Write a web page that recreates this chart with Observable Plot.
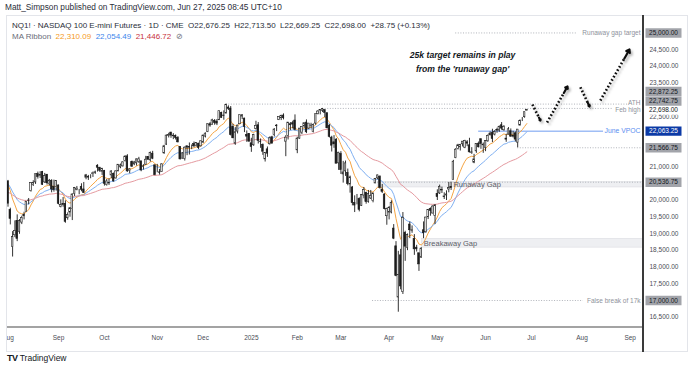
<!DOCTYPE html>
<html><head><meta charset="utf-8">
<script src="https://cdn.jsdelivr.net/npm/d3@7"></script>
<script src="https://cdn.jsdelivr.net/npm/@observablehq/plot@0.6"></script>
<style>
body{margin:0;background:#fff;font-family:"Liberation Sans",Arial,sans-serif;}
#wrap{position:relative;width:690px;height:369px;overflow:hidden;background:#fff;}
#chart{position:absolute;left:0;top:0;}
.t{position:absolute;white-space:nowrap;color:#131722;line-height:10px;}
</style></head><body>
<div id="wrap">
<div id="chart"></div>
<div style="position:absolute;left:6px;top:15px;width:682px;height:337px;border:1px solid #e3e5ea;box-sizing:border-box;pointer-events:none"></div>
<div style="position:absolute;left:7px;top:326px;width:636px;height:2px;background:#a3a3a3"></div>
<div style="position:absolute;left:642px;top:15px;width:1.5px;height:337px;background:#3a3a3a"></div>
<div style="position:absolute;left:0;top:328px;width:6px;height:22px;background:#fff"></div>
<div class="t" style="left:5px;top:2px;font-size:8.3px;color:#2a2e39">Matt_Simpson published on TradingView.com, Jun 27, 2025 08:45 UTC+10</div>
<div class="t" id="hdr" style="left:12px;top:21px;font-size:8px;color:#2a2e39"></div>
<div class="t" id="ma" style="left:12px;top:32px;font-size:8px;color:#6a6d78"></div>
<div class="t" style="left:7px;top:352px;font-size:8.5px;color:#131722;line-height:12px"><b style="font-size:9px;letter-spacing:-0.5px">TV</b> TradingView</div>
</div>
<script>
// ---------- data ----------
const open = [20560,19700,18600,18950,19380,19050,19330,19520,19650,19990,20270,20450,20530,20780,20730,20840,20530,20760,20480,20580,20400,20390,
20440,19800,19880,19890,19460,19630,19730,20180,20310,20300,20400,20320,20670,20700,20710,20780,20830,21030,20970,20850,
20870,20450,20500,20740,20790,20650,20860,20980,21010,21170,21310,20870,21140,21070,21100,21140,21160,20990,21060,21290,21190,21390,21040,
20860,20830,20840,21400,21660,21920,22020,21930,21920,21860,21590,21240,21230,21610,21590,21570,21680,21620,21690,21610,
21720,21900,22040,22270,22250,22370,22350,22390,22610,22530,22590,22770,22740,22190,21690,22050,22270,22500,22440,21950,21980,
21700,21640,22130,22240,21750,21650,21220,21520,21670,21880,21950,22210,22400,22450,22530,21750,21920,22270,22300,22380,
21490,21840,22020,22210,22320,22140,22220,22040,22290,22570,22680,22670,22690,22600,22230,21870,21730,21810,21100,
21380,20770,20860,20810,20470,20380,19920,20070,20030,19830,20140,20220,19950,20050,19970,20500,20650,20700,20310,20170,19520,
19630,19630,19150,18620,17090,18350,17250,19020,18570,19270,19080,18840,18580,18410,18280,19100,19040,19490,19740,19600,19530,
20190,20200,20300,20110,20140,20320,20390,20600,21260,21530,21580,21670,21570,21730,21640,21410,21120,21460,21690,21820,21640,
21560,21760,21940,22010,21960,22100,22080,22240,22090,21840,21960,22060,21920,22000,21720,22230,22420,22480,22676.25];
const high = [20590,19760,19060,19380,19560,19420,19520,19640,19960,20050,20520,20580,20780,20840,20850,20860,20800,20770,20620,20610,20600,20580,
20450,20010,20080,19980,19620,19780,20190,20380,20410,20320,20490,20530,20770,20740,20760,20840,20870,21060,20980,20950,
20890,20620,20640,20880,20810,20880,21060,21080,21150,21330,21360,20940,21170,21160,21230,21280,21170,21060,21310,21300,21440,21460,21060,
21070,20920,21090,21640,21950,22000,22030,21990,21950,21900,21600,21420,21590,21620,21710,21650,21740,21720,21700,21770,
21950,22010,22280,22320,22420,22410,22410,22670,22630,22670,22872.25,22820,22800,22270,22170,22240,22540,22560,22450,22070,21990,
21850,21970,22360,22320,21830,21680,21410,21590,21890,21910,22140,22260,22500,22540,22580,21930,22320,22320,22360,22550,
21880,22140,22200,22310,22400,22290,22300,22280,22570,22680,22710,22742.75,22700,22610,22260,21910,21930,21840,21430,
21450,21160,21170,20930,20720,20410,20130,20170,20070,20170,20380,20240,20290,20290,20210,20650,20750,20730,20470,20190,19760,
19810,19980,19270,18760,18470,18530,19630,19070,18990,19350,19230,18970,18650,18420,18580,19350,19490,19710,19770,19830,19870,
20310,20450,20390,20220,20280,20530,20536.75,21190,21540,21670,21670,21750,21790,21780,21850,21570,21370,21690,21740,21840,21710,
21780,21950,22040,22120,22080,22150,22220,22320,22230,21970,22170,22130,22060,22040,22110,22400,22470,22630,22713.5];
const low = [19790,19260,18300,18880,18760,18980,19270,19410,19640,19860,20240,20410,20470,20630,20650,20440,20500,20450,20420,20220,20240,20270,
19860,19770,19790,19310,19400,19490,19390,20110,20280,20160,20250,20200,20610,20590,20640,20680,20770,20840,20830,20740,
20420,20420,20440,20640,20540,20630,20850,20940,20990,21140,20830,20790,20980,21030,21020,21100,20850,20900,21040,21190,21140,21210,20730,
20820,20750,20830,21370,21640,21860,21850,21810,21800,21710,21200,21230,21170,21330,21350,21510,21570,21590,21510,21590,
21700,21860,22020,22180,22240,22240,22230,22380,22450,22390,22580,22680,21920,21840,21640,21980,22260,22410,22020,21730,21730,
21430,21610,22100,21680,21550,21340,21140,21280,21650,21680,21890,22050,22380,22380,22400,21300,21800,22080,22130,22070,
21390,21820,21960,22150,21990,22110,22150,22010,22240,22550,22550,22620,22470,22130,21860,21440,21550,21080,20890,
20770,20510,20710,20430,20210,19830,19630,19860,19650,19810,20040,19880,19910,20020,19920,20490,20610,20330,20200,19710,19250,
19410,19590,18820,17710,16650,17320,17180,18170,18490,18850,19010,18350,18450,17870,18260,18850,19010,19420,19520,19590,19270,
19990,20170,20200,20020,19990,20220,20290,20590,21240,21500,21470,21590,21540,21600,21410,21370,21090,21400,21560,21520,21400,
21450,21730,21920,21720,21920,22000,22030,22090,22060,21730,21950,21880,21860,21740,21566.75,22220,22350,22450,22669.25];
const close = [19895,19440,18895,19078,18841,19375,19470,19552,19955,19985,20508,20509,20776,20691,20752,20460,20720,20506,20581,20322,20305,20575,
19890,19850,19860,19351,19560,19759,20169,20361,20344,20300,20310,20218,20744,20674,20710,20800,20820,20970,20880,20940,
20490,20560,20520,20860,20560,20860,21060,21040,21130,21300,20860,20920,21000,21130,21220,21220,20890,21010,21210,21210,21410,21240,20750,
20860,20820,21070,21610,21930,21950,21930,21910,21860,21730,21220,21400,21570,21570,21570,21570,21610,21710,21560,21760,
21930,21990,22270,22230,22390,22310,22290,22660,22460,22520,22840,22730,21950,21850,22030,22230,22540,22540,22190,21900,21750,
21590,21950,22220,21770,21740,21450,21410,21390,21850,21690,22110,22230,22490,22520,22450,21870,22320,22240,22260,22100,
21840,22140,22190,22300,22030,22290,22230,22250,22570,22650,22700,22720,22610,22150,21890,21630,21670,21090,21420,
20900,20830,21100,20480,20680,19910,19840,20070,19710,20150,20300,19940,20190,20130,20200,20630,20740,20370,20250,19730,19730,
19770,19910,18850,17730,17760,17420,19470,18610,18960,19100,19100,18530,18530,18080,18550,19010,19480,19700,19680,19810,19840,
20090,20400,20290,20090,20170,20360,20360,21150,21510,21640,21650,21750,21770,21690,21430,21430,21220,21680,21580,21680,21660,
21770,21920,21990,21830,22040,22080,22190,22140,22190,21810,22120,21900,21900,21810,22110,22370,22420,22630,22698];

const monthIdx = [0,22,42,65,85,106,126,145,166,187,208,228,250,271];
const monthLabels = ["Aug","Sep","Oct","Nov","Dec","2025","Feb","Mar","Apr","May","Jun","Jul","Aug","Sep"];
// price-scale labels left visible by the reference (others are hidden under the value boxes)
const yTicks = [16500,17500,18000,18500,19000,19500,20000,21000,22500,23500,24000,24500];

const maPeriods = [10,20,50];
const maSeed = [20600,20550,20250];
const maColors = ["#f5a544","#7fb0f2","#e59aa0"];
const maLegend = ["22,310.09","22,054.49","21,446.72"];
const maLegendColors = ["#f59a23","#3d86ec","#c8323c"];

const levelValue = [25000,22872.25,22742.75,21566.75,20536.75,17000];
const levelStart = [195,95,137,222,161,158.8];
const levelEnd   = [248,270.3,263.7,276.8,276.8,250.6];
const levelText  = ["Runaway gap target","ATH","Feb high","","","False break of 17k"];

const vpocValue = 22063.25, vpocStart = 205, vpocEnd = 259.4, vpocText = "June VPOC";

const gapName = ["Runaway Gap","Breakaway Gap"];
const gapLow  = [20380,18580];
const gapHigh = [20536.75,18845];
const gapStart = [161,180.4];
const gapTextX = [194,181.1];

const arrowX1 = [228.4,234.8,249.3,258.0];
const arrowY1 = [22860,22322,23378,22980];
const arrowX2 = [231.9,243.7,253.3,270.7];
const arrowY2 = [22382,23399,22801,24505];

const noteText = "25k target remains in play\nfrom the 'runaway gap'";
const noteX = 198, noteY = 24170;

const boxValue = [25000,22872.25,22742.75,22698,22063.25,21566.75,20536.75,17000];

const header = {sym:"NQ1! · NASDAQ 100 E-mini Futures · 1D · CME", o:"22,676.25", h:"22,713.50", l:"22,669.25", c:"22,698.00", chg:"+28.75 (+0.13%)"};

// ---------- derived ----------
const bars = close.map((c,i)=>({i, o:open[i], h:high[i], l:low[i], c, up: c>=open[i]}));
function ema(vals, p, seed){const a=2/(p+1); let e=seed; return vals.map((v,i)=>({i, v:(e=e+a*(v-e))}));}
const mas = maPeriods.map((p,k)=>ema(close,p,maSeed[k]));
const levels = levelValue.map((v,k)=>({v, x1:levelStart[k], x2:levelEnd[k], t:levelText[k]}));
const gaps = gapName.map((n,k)=>({n, lo:gapLow[k], hi:gapHigh[k], x1:gapStart[k], tx:gapTextX[k]}));
const arrows = arrowX1.map((x,k)=>({x1:x, y1:arrowY1[k], x2:arrowX2[k], y2:arrowY2[k],
  hx:arrowX2[k]-0.18*(arrowX2[k]-x), hy:arrowY2[k]-0.18*(arrowY2[k]-arrowY1[k])}));
const boxes = boxValue.map(v=>({v}));
const fmt = d3.format(",.2f");
const xDom = [-0.22, 276.8];
const boxSym = {draw(ctx){ctx.rect(-18,-4.7,36,9.4);}};
const dyOf = v => v===22872.25 ? -12.6 : v===22742.75 ? -7.3 : 0;
const boxFill = v => v===22063.25 ? "#0c3aa6" : v===22698 ? "#ffffff" : "#a2a4aa";
const boxText = v => v===22063.25 ? "#ffffff" : "#131722";
const boxMarks = [];
for (const dy of [0,-7.3,-12.6]) {
  const sub = boxes.filter(d=>dyOf(d.v)===dy);
  boxMarks.push(Plot.dot(sub,{y:"v", frameAnchor:"right", dx:20, dy, symbol:boxSym, fill:d=>boxFill(d.v), stroke:"none"}));
  boxMarks.push(Plot.text(sub,{y:"v", frameAnchor:"right", dx:20, dy, textAnchor:"middle", text:d=>fmt(d.v), fill:d=>boxText(d.v), fontSize:6.5, fontWeight:d=>d.v===22063.25?"bold":"normal"}));
}
const lvlDy = t => t==="ATH" ? -1.3 : t==="Feb high" ? 1 : 0;
const lvlMarks = [...new Set(levels.filter(d=>d.t).map(d=>lvlDy(d.t)))].map(dy =>
  Plot.text(levels.filter(d=>d.t && lvlDy(d.t)===dy),{x:275.5, y:"v", dy, text:"t", textAnchor:"end", fill:"#8e929b", fontSize:6.5}));

const chart = Plot.plot({
  width:690, height:369, marginLeft:7, marginRight:47, marginTop:15, marginBottom:42,
  style:{fontFamily:"'Liberation Sans',Arial,sans-serif", fontSize:"6.5px", color:"#4a4c55", background:"transparent"},
  x:{domain:xDom, ticks:monthIdx, tickFormat:d=>monthLabels[monthIdx.indexOf(d)], tickSize:0, tickPadding:8, label:null},
  y:{domain:[16192.7,25521.5], axis:"right", ticks:yTicks, tickFormat:d=>fmt(d), tickSize:0, tickPadding:6, label:null},
  marks:[
    Plot.rect(gaps,{x1:"x1", x2:xDom[1], y1:"lo", y2:"hi", fill:"#eeeff2", stroke:"#dcdde2", strokeWidth:0.6}),
    Plot.ruleY(levels,{y:"v", x1:"x1", x2:"x2", stroke:"#a8abb3", strokeWidth:0.9, strokeDasharray:"1,1.6"}),
    Plot.ruleY([vpocValue],{y:d=>d, x1:vpocStart, x2:vpocEnd, stroke:"#6f9df0", strokeWidth:1}),
    ...mas.map((m,k)=>Plot.line(m,{x:"i", y:"v", stroke:maColors[k], strokeWidth:1})),
    Plot.ruleX(bars,{x:"i", y1:"l", y2:"h", stroke:"#1c1c1c", strokeWidth:0.9}),
    Plot.rect(bars,{x1:d=>d.i-0.34, x2:d=>d.i+0.34, y1:"o", y2:"c", fill:d=>d.up?"#ffffff":"#1c1c1c", stroke:"#1c1c1c", strokeWidth:0.6}),
    Plot.text(gaps,{x:"tx", y:d=>(d.lo+d.hi)/2, text:"n", textAnchor:"start", fill:"#5d6068", fontSize:7.5}),
    ...lvlMarks,
    Plot.text([vpocText],{x:275.5, y:vpocValue, text:d=>d, textAnchor:"end", fill:"#5b8ef0", fontSize:6.8}),
    Plot.text([noteText],{x:noteX, y:noteY, text:d=>d, textAnchor:"middle", fontSize:8.6, fontWeight:"bold", fontStyle:"italic", fill:"#131722", lineHeight:1.6}),
    Plot.link(arrows,{x1:"x1", y1:"y1", x2:"hx", y2:"hy", stroke:"#111", strokeWidth:2.6, strokeDasharray:"1.7,2.1"}),
    Plot.arrow(arrows,{x1:"hx", y1:"hy", x2:"x2", y2:"y2", stroke:"#111", strokeWidth:2.2, headLength:8, headAngle:70}),
    ...boxMarks
  ]
});
document.getElementById("chart").appendChild(chart);
const svg = d3.select(chart);
const f = svg.insert("defs",":first-child").append("filter").attr("id","ash").attr("x","-50%").attr("y","-50%").attr("width","200%").attr("height","200%");
f.append("feDropShadow").attr("dx",1.8).attr("dy",2).attr("stdDeviation",1.3).attr("flood-color","#000").attr("flood-opacity",0.28);
svg.selectAll('g[aria-label="link"], g[aria-label="arrow"]').attr("filter","url(#ash)");

document.getElementById("hdr").innerHTML = `${header.sym}&nbsp;&nbsp;O${header.o}&nbsp;&nbsp;H${header.h}&nbsp;&nbsp;L${header.l}&nbsp;&nbsp;C${header.c}&nbsp;&nbsp;${header.chg}`;
document.getElementById("ma").innerHTML = "MA Ribbon&nbsp;&nbsp;" + maLegend.map((v,k)=>`<span style="color:${maLegendColors[k]}">${v}</span>`).join("&nbsp;&nbsp;") + "&nbsp;&nbsp;⊘";
</script>
</body></html>
